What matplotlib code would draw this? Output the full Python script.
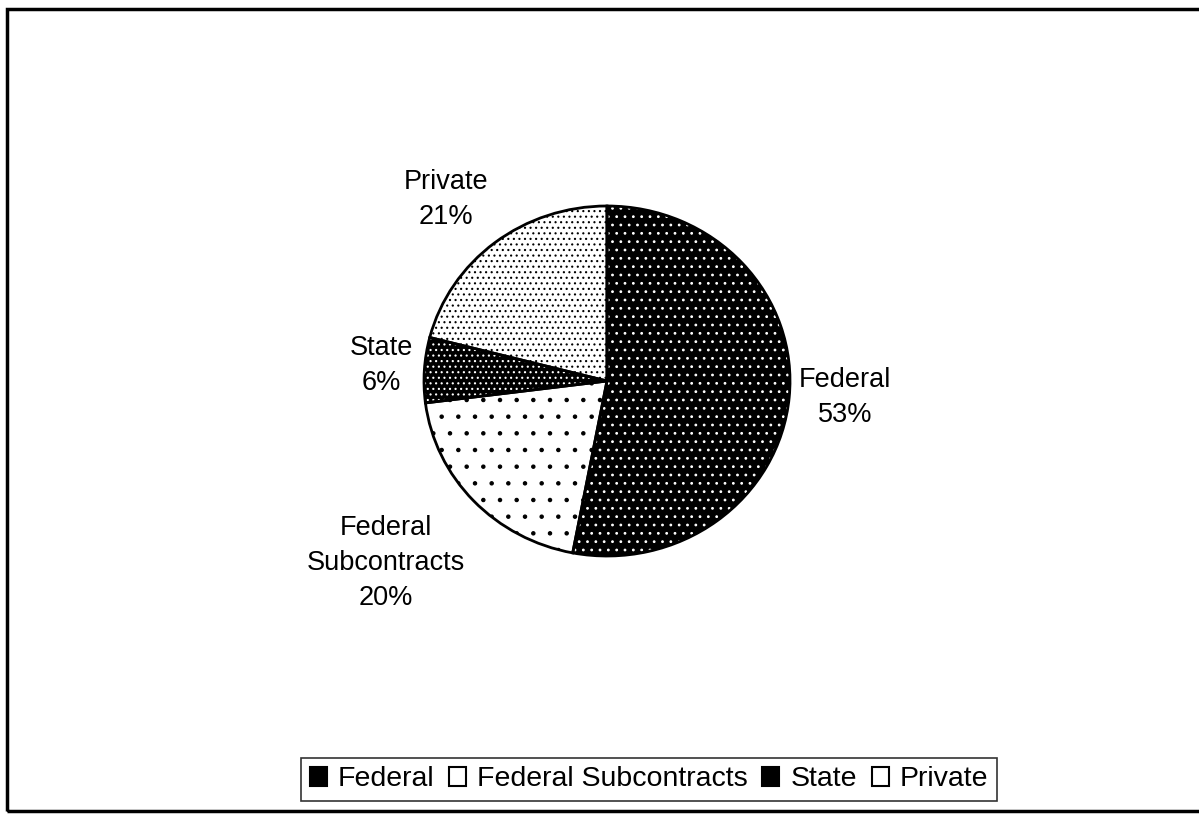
import numpy as np
import matplotlib.pyplot as plt
from matplotlib.patches import Patch, Rectangle

plt.rcParams['font.family'] = ['Liberation Sans', 'DejaVu Sans']
plt.rcParams['hatch.linewidth'] = 0.8

categories = ['Federal', 'Federal Subcontracts', 'State', 'Private']
shares = [53, 20, 6, 21]
slice_labels = ['Federal\n53%', 'Federal\nSubcontracts\n20%', 'State\n6%', 'Private\n21%']

# look of each slice: fill, dot colour, dot density
fills = ['black', 'white', 'black', 'white']
dots = ['white', 'black', 'white', 'black']
hatches = ['..', '.', '...', '...']
label_dist = [1.25, 1.58, 1.235, 1.37]
label_nudge = [(10, 4), (-10, 7), (0, 2), (-7, -8)]  # pixels, up is positive

fig = plt.figure(figsize=(11.99, 8.14), dpi=100)
# pie is a bit wider than tall in the original
cx, cy, rx, ry = 607, 381, 183, 175
ax = fig.add_axes([(cx - rx) / 1199, (814 - cy - ry) / 814, 2 * rx / 1199, 2 * ry / 814])

wedges, _ = ax.pie(shares, startangle=90, counterclock=False, radius=1,
                   wedgeprops=dict(linewidth=0))
for w, fc, dc, h in zip(wedges, fills, dots, hatches):
    w.set_facecolor(fc)
    w.set_edgecolor(dc)
    w.set_hatch(h)
    w.set_linewidth(0)

# outlines on top
ax.pie(shares, startangle=90, counterclock=False, radius=1,
       wedgeprops=dict(fill=False, edgecolor='black', linewidth=2))

for w, lab, d, nudge in zip(wedges, slice_labels, label_dist, label_nudge):
    ang = np.deg2rad((w.theta1 + w.theta2) / 2)
    ax.annotate(lab, (d * np.cos(ang), d * np.sin(ang)), xytext=nudge,
                textcoords='offset pixels', ha='center', va='center',
                fontsize=19.5, linespacing=1.45, annotation_clip=False)

ax.set_xlim(-1, 1)
ax.set_ylim(-1, 1)
ax.set_aspect('auto')
ax.axis('off')

handles = [Patch(facecolor=fc, edgecolor='black', linewidth=1.5) for fc in fills]
leg = fig.legend(handles, categories, loc='center', bbox_to_anchor=(649 / 1199, 1 - 779.5 / 814),
                 ncol=4, fontsize=20.5, frameon=True, fancybox=False,
                 handlelength=0.6, handleheight=0.6, handletextpad=0.4,
                 columnspacing=0.5, borderpad=0.3, borderaxespad=0)
leg.get_frame().set_edgecolor('black')
leg.get_frame().set_linewidth(1.2)

fig.patches.append(Rectangle((7 / 1199, 3 / 814), 1.1, 802 / 814, transform=fig.transFigure,
                             fill=False, edgecolor='black', linewidth=2.5))

fig.savefig('out.png', dpi=100, facecolor='white')
